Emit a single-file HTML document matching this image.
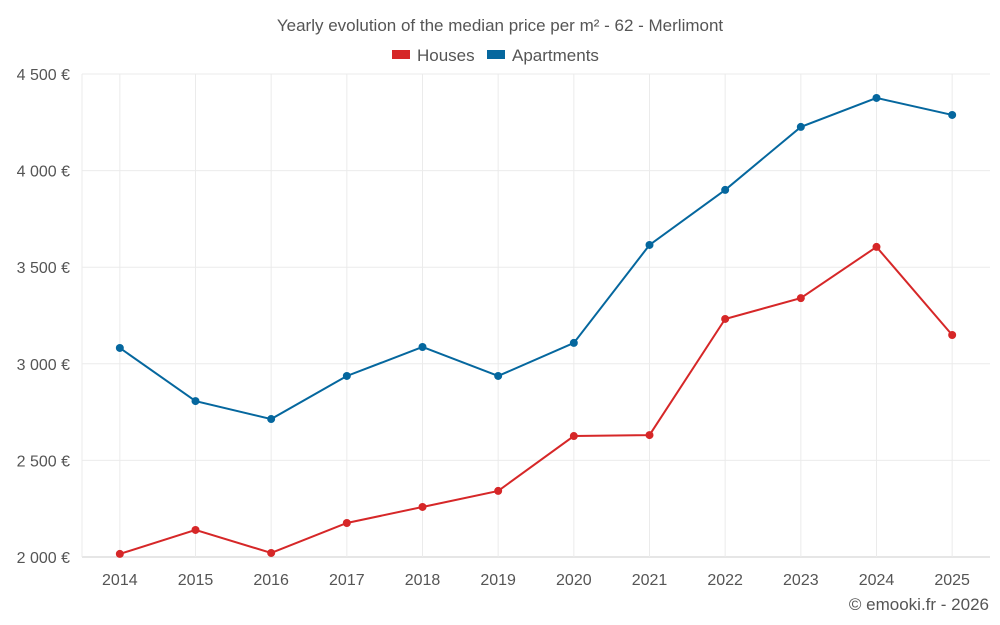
<!DOCTYPE html>
<html><head><meta charset="utf-8"><style>
body{margin:0;background:#fff;font-family:"Liberation Sans",sans-serif;}
svg{display:block}
text{font-family:"Liberation Sans",sans-serif;fill:#555}
</style></head><body>
<svg id="chart" width="1000" height="625" viewBox="0 0 1000 625">
<text x="500" y="31" text-anchor="middle" font-size="17" fill="#666">Yearly evolution of the median price per m² - 62 - Merlimont</text>
<g>
<g><rect x="392" y="50" width="18" height="9" fill="#d62728"/><text x="417" y="61" font-size="17">Houses</text></g>
<g><rect x="487" y="50" width="18" height="9" fill="#05679e"/><text x="512" y="61" font-size="17">Apartments</text></g>
</g>
<g id="grid"></g>
<g id="axes"></g>
<g id="series"></g>
<text x="989" y="610" text-anchor="end" font-size="17">© emooki.fr - 2026</text>
</svg>
<script>
const categories=[2014,2015,2016,2017,2018,2019,2020,2021,2022,2023,2024,2025];
const houses=[2016,2140,2021,2176,2259,2342,2626,2631,3232,3340,3605,3149];
const apartments=[3082,2807,2714,2937,3087,2937,3108,3615,3900,4226,4376,4288];
const yTicks=[2000,2500,3000,3500,4000,4500];
const yTickLabels=["2 000 €","2 500 €","3 000 €","3 500 €","4 000 €","4 500 €"];
const L=82,R=990,T=74,B=557,yMin=2000,yMax=4500;
const step=(R-L)/categories.length;
const x=i=>L+step*(i+0.5);
const y=v=>B-(v-yMin)/(yMax-yMin)*(B-T);
const NS="http://www.w3.org/2000/svg";
function mk(tag,attrs,parent){const e=document.createElementNS(NS,tag);for(const k in attrs)e.setAttribute(k,attrs[k]);parent.appendChild(e);return e;}
const grid=document.getElementById('grid'),axes=document.getElementById('axes'),ser=document.getElementById('series');
yTicks.forEach((t,i)=>{
 const l=mk('line',{x1:L,x2:R,y1:y(t),y2:y(t),stroke:i===0?'#ccc':'#ebebeb'},grid);
 
 
 const tx=mk('text',{x:L-12,y:y(t)+6,'text-anchor':'end','font-size':'16'},axes);
 tx.textContent=yTickLabels[i];
 
 
});
const la=mk('line',{x1:L,x2:L,y1:T,y2:B,stroke:'#ebebeb'},grid);


categories.forEach((c,i)=>{
 const l=mk('line',{x1:x(i),x2:x(i),y1:T,y2:B,stroke:'#ebebeb'},grid);
 
 
 const tx=mk('text',{x:x(i),y:B+28,'text-anchor':'middle','font-size':'16'},axes);
 tx.textContent=c;
 
 
});
[[houses,'#d62728','houses'],[apartments,'#05679e','apartments']].forEach(([d,col,n])=>{
 const p=mk('polyline',{points:d.map((v,i)=>x(i)+','+y(v)).join(' '),fill:'none',stroke:col,'stroke-width':2},ser);
 
 
 d.forEach((v,i)=>{
  const c=mk('circle',{cx:x(i),cy:y(v),r:4,fill:col},ser);
  
  
 });
});
</script>
</body></html>
